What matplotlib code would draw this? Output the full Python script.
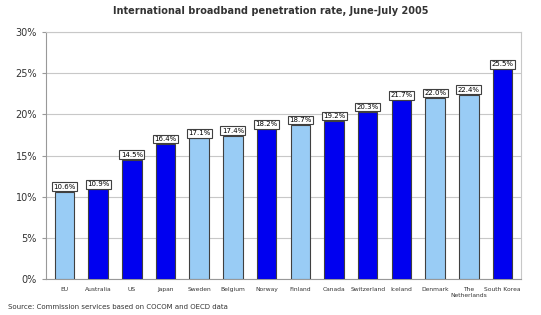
import matplotlib.pyplot as plt
import numpy as np

# Данные
countries = ["EU", "Australia", "US", "Japan", "Sweden", "Belgium", "Norway",
             "Finland", "Canada", "Switzerland", "Iceland", "Denmark",
             "The\nNetherlands", "South Korea"]
rates = [10.6, 10.9, 14.5, 16.4, 17.1, 17.4, 18.2, 18.7, 19.2, 20.3, 21.7, 22.0, 22.4, 25.5]
light = [True, False, False, False, True, True, False, True, False, False, False, True, True, False]

light_col = "#99ccf5"
dark_col = "#0000f0"
colors = [light_col if l else dark_col for l in light]

fig = plt.figure(figsize=(5.41, 3.15), dpi=100)
ax = fig.add_axes([0.085, 0.114, 0.878, 0.784])

x = np.arange(len(countries))
ax.bar(x, rates, width=0.58, color=colors, edgecolor="#404040", linewidth=0.8, zorder=3)

for xi, v in zip(x, rates):
    ax.text(xi, v + 0.25, f"{v:.1f}%", ha="center", va="bottom", fontsize=5,
            bbox=dict(boxstyle="square,pad=0.2", fc="white", ec="#404040", lw=0.8), zorder=4)

ax.set_xlim(-0.55, len(countries) - 0.45)
ax.set_ylim(0, 30)
ax.set_yticks(np.arange(0, 31, 5))
ax.set_yticklabels([f"{t}%" for t in range(0, 31, 5)], fontsize=7, color="#333333")
ax.set_xticks(x)
ax.set_xticklabels(countries, fontsize=4.3, color="#333333")
ax.tick_params(axis="x", length=0, pad=6)
ax.tick_params(axis="y", length=3, color="#999999")
ax.grid(axis="y", color="#c8c8c8", linewidth=0.8, zorder=0)
for s in ax.spines.values():
    s.set_color("#c8c8c8")
ax.spines["left"].set_color("#999999")
ax.spines["bottom"].set_color("#999999")

fig.text(0.5, 0.965, "International broadband penetration rate, June-July 2005",
         ha="center", va="center", fontsize=7, fontweight="bold", color="#333333")
fig.text(0.015, 0.025, "Source: Commission services based on COCOM and OECD data",
         ha="left", va="center", fontsize=5, color="#333333")

plt.savefig("out.png", dpi=100)
